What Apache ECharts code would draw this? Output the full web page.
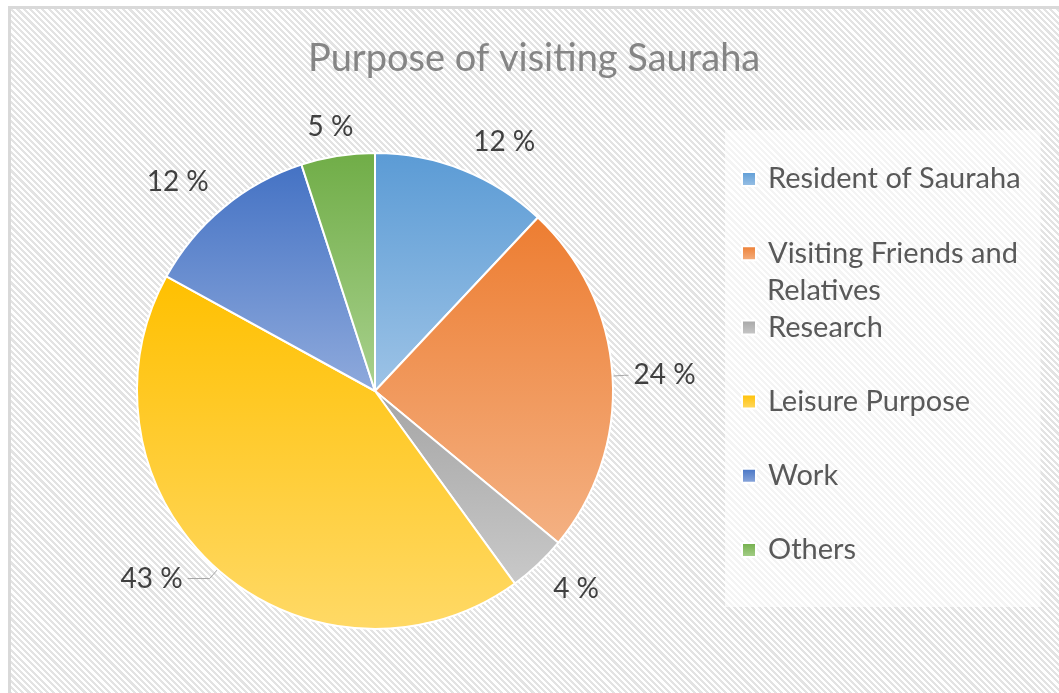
<!DOCTYPE html>
<html>
<head>
<meta charset="utf-8">
<script src="https://cdn.jsdelivr.net/npm/echarts@6/dist/echarts.min.js"></script>
<style>
  html, body { margin: 0; padding: 0; background: #fff; overflow: hidden; }
  #frame {
    position: absolute; left: 8px; top: 6px; width: 1080px; height: 720px;
    border: 3px solid #d9d9d9;
    background: repeating-linear-gradient(45deg, #ffffff 0px, #ffffff 2.2px, #e3e3e3 2.2px, #e3e3e3 4.4px);
  }
  #chart { position: absolute; left: 0; top: 0; width: 1059px; height: 693px; }
</style>
</head>
<body>
<div id="frame"></div>
<div id="chart"></div>
<script>
  // chart data
  const categories = ['Resident of Sauraha', 'Visiting Friends and Relatives', 'Research', 'Leisure Purpose', 'Work', 'Others'];
  const shares = [12, 24, 4, 43, 12, 5];

  // slice gradients (top -> bottom)
  const topColors = ['#5b9bd5', '#ed7d31', '#a5a5a5', '#ffc000', '#4472c4', '#70ad47'];
  const bottomColors = ['#9dc3e6', '#f4b183', '#c9c9c9', '#ffd966', '#8faadc', '#a9d18e'];
  // slices whose label sits on a short leader line
  const withLeader = ['Visiting Friends and Relatives', 'Leisure Purpose'];

  const font = 'Lato, "Open Sans", sans-serif';
  const chart = echarts.init(document.getElementById('chart'));

  const pieData = categories.map((name, i) => {
    let labelLine = { show: false, length: 15, length2: 0 };
    if (name === 'Visiting Friends and Relatives') labelLine = { show: true, length: 12, length2: 4 };
    if (name === 'Leisure Purpose') labelLine = { show: true, length: 12, length2: 22 };
    return {
      name: name,
      value: shares[i],
      itemStyle: {
        color: {
          type: 'linear', x: 0, y: 0, x2: 0, y2: 1,
          colorStops: [
            { offset: 0, color: topColors[i] },
            { offset: 1, color: bottomColors[i] }
          ]
        }
      },
      labelLine: labelLine
    };
  });

  // labels without a leader sit just off the arc, corner towards the slice
  const placeLabel = params => {
    if (withLeader.includes(categories[params.dataIndex])) return {};
    const pts = params.labelLinePoints;
    if (!pts) return {};
    const dx = pts[1][0] - pts[0][0];
    const dy = pts[1][1] - pts[0][1];
    const len = Math.sqrt(dx * dx + dy * dy) || 1;
    return {
      verticalAlign: dy < 0 ? 'bottom' : 'top',
      align: Math.abs(dx) < 0.3 * len ? 'center' : (dx > 0 ? 'left' : 'right')
    };
  };

  const option = {
    animation: false,
    backgroundColor: 'transparent',
    title: {
      text: 'Purpose of visiting Sauraha',
      left: 303,
      top: 35,
      textStyle: {
        color: '#858585',
        fontSize: 38,
        fontWeight: 'normal',
        fontFamily: font
      }
    },
    legend: {
      orient: 'vertical',
      left: 725,
      top: 130,
      padding: [34, 20, 42, 16],
      backgroundColor: 'rgba(255,255,255,0.6)',
      icon: 'rect',
      itemWidth: 14,
      itemHeight: 14,
      itemGap: 44.2,
      data: categories,
      formatter: name => name === 'Visiting Friends and Relatives' ? 'Visiting Friends and' : name,
      textStyle: {
        color: '#595959',
        fontSize: 29,
        lineHeight: 30,
        fontFamily: font,
        padding: [0, 0, 0, 7]
      }
    },
    graphic: [
      {
        type: 'text',
        z: 100,
        x: 767,
        y: 291,
        style: {
          text: 'Relatives',
          fill: '#595959',
          font: '29px ' + font,
          verticalAlign: 'middle'
        }
      }
    ],
    series: [
      {
        name: 'Purpose',
        type: 'pie',
        center: [375, 391],
        radius: 238,
        startAngle: 90,
        clockwise: true,
        avoidLabelOverlap: false,
        data: pieData,
        itemStyle: {
          borderColor: '#ffffff',
          borderWidth: 2
        },
        label: {
          show: true,
          position: 'outside',
          formatter: '{c} %',
          color: '#404040',
          fontSize: 28,
          fontFamily: font
        },
        labelLine: {
          lineStyle: { color: '#a6a6a6', width: 1 }
        },
        labelLayout: placeLabel,
        emphasis: { disabled: true }
      }
    ]
  };

  chart.setOption(option);
</script>
</body>
</html>
